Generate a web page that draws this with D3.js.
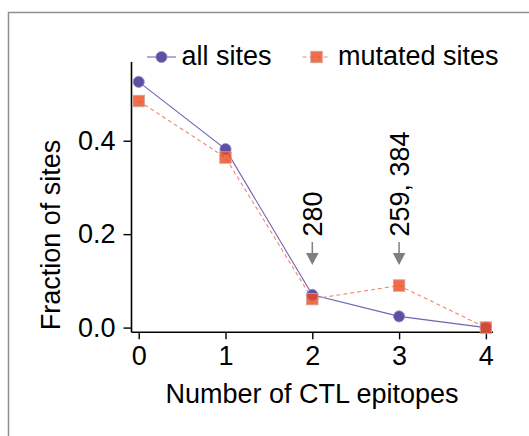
<!DOCTYPE html>
<html><head><meta charset="utf-8">
<script src="https://cdn.jsdelivr.net/npm/d3@7"></script>
<style>body{margin:0;background:#fff}svg{display:block}text{font-family:"Liberation Sans",Arial,sans-serif;fill:#000}</style>
</head><body>
<script>
const categories = [0, 1, 2, 3, 4];
const allSites = [0.526, 0.382, 0.070, 0.024, 0.0];
const mutatedSites = [0.485, 0.364, 0.061, 0.090, 0.0];
const yTicks = [0.0, 0.2, 0.4];
const xTicks = [0, 1, 2, 3, 4];
const annotations = [{x: 2, label: "280"}, {x: 3, label: "259, 384"}];
const annotTip = 0.134;
const seriesNames = ["all sites", "mutated sites"];

const W = 529, H = 436;
const svg = d3.select("body").append("svg").attr("width", W).attr("height", H);
svg.append("rect").attr("x", 8.5).attr("y", 12.5).attr("width", 700).attr("height", 600)
  .attr("fill", "none").attr("stroke", "#8f8f8f").attr("stroke-width", 1.5);

const x = d3.scaleLinear().domain([-0.083, 4.082]).range([131.5, 493]);
const y = d3.scaleLinear().domain([-0.0101, 0.5685]).range([332.3, 62]);
const FS = 27;

// axes
const yAxis = svg.append("g").attr("transform", `translate(${x.range()[0]},0)`)
  .call(d3.axisLeft(y).tickValues(yTicks).tickFormat(d3.format(".1f")).tickSize(8).tickPadding(8));
const xAxis = svg.append("g").attr("transform", `translate(0,${y.range()[0]})`)
  .call(d3.axisBottom(x).tickValues(xTicks).tickFormat(d3.format("d")).tickSize(7).tickPadding(7));
[yAxis, xAxis].forEach(g => {
  g.select(".domain").attr("stroke", "#000").attr("stroke-width", 1.6);
  g.selectAll(".tick line").attr("stroke", "#000").attr("stroke-width", 1.4);
  g.selectAll(".tick text").attr("font-size", FS).attr("font-family", '"Liberation Sans",Arial,sans-serif').attr("fill", "#000");
});
yAxis.select(".domain").attr("d", `M-0,${y.range()[1]}V${y.range()[0]}`);
xAxis.select(".domain").attr("d", `M${x.range()[0]},0H${x.range()[1]}`);

svg.append("text").attr("x", 312).attr("y", 403).attr("text-anchor", "middle").attr("font-size", FS)
  .text("Number of CTL epitopes");
svg.append("text").attr("transform", "translate(60,235) rotate(-90)").attr("text-anchor", "middle")
  .attr("font-size", FS).text("Fraction of sites");

const purple = "#5e4fa2", orange = "#ee4a1e";
const line = d3.line().x((d, i) => x(categories[i])).y(d => y(d));
svg.append("path").datum(allSites).attr("d", line).attr("fill", "none")
  .attr("stroke", "#6f63b5").attr("stroke-width", 1.1);
svg.append("path").datum(mutatedSites).attr("d", line).attr("fill", "none")
  .attr("stroke", "#f4876a").attr("stroke-width", 1.1).attr("stroke-dasharray", "4,3");

svg.append("g").selectAll("circle").data(allSites).join("circle")
  .attr("cx", (d, i) => x(categories[i])).attr("cy", d => y(d)).attr("r", 5.6)
  .attr("fill", purple).attr("stroke", "#9a90c8").attr("stroke-width", 0.8);
const S = 11.5;
svg.append("g").selectAll("rect").data(mutatedSites).join("rect")
  .attr("x", (d, i) => x(categories[i]) - S / 2).attr("y", d => y(d) - S / 2)
  .attr("width", S).attr("height", S).attr("fill", orange).attr("fill-opacity", 0.8)
  .attr("stroke", "#c8a69c").attr("stroke-width", 0.8);

// annotations
annotations.forEach(a => {
  const cx = x(a.x), tip = y(annotTip);
  svg.append("line").attr("x1", cx).attr("x2", cx).attr("y1", tip - 23).attr("y2", tip - 10)
    .attr("stroke", "#7f7f7f").attr("stroke-width", 1.5);
  svg.append("path").attr("d", `M${cx - 6.3},${tip - 12}L${cx + 6.3},${tip - 12}L${cx},${tip}Z`).attr("fill", "#7f7f7f");
  svg.append("text").attr("transform", `translate(${cx + 9.5},${tip - 28.5}) rotate(-90)`)
    .attr("font-size", FS).text(a.label);
});

// legend
const lg = svg.append("g");
lg.append("line").attr("x1", 147).attr("x2", 176).attr("y1", 57).attr("y2", 57)
  .attr("stroke", "#b4acd8").attr("stroke-width", 2);
lg.append("circle").attr("cx", 161.5).attr("cy", 57).attr("r", 5.6).attr("fill", purple)
  .attr("stroke", "#9a90c8").attr("stroke-width", 0.8);
lg.append("text").attr("x", 181.5).attr("y", 65).attr("font-size", FS).text(seriesNames[0]);
lg.append("line").attr("x1", 302.5).attr("x2", 330).attr("y1", 57).attr("y2", 57)
  .attr("stroke", "#f4876a").attr("stroke-width", 1).attr("stroke-dasharray", "4,3");
lg.append("rect").attr("x", 316.5 - S / 2).attr("y", 57 - S / 2).attr("width", S).attr("height", S)
  .attr("fill", orange).attr("fill-opacity", 0.8).attr("stroke", "#c8a69c").attr("stroke-width", 0.8);
lg.append("text").attr("x", 338).attr("y", 65).attr("font-size", FS).text(seriesNames[1]);
</script>
</body></html>
